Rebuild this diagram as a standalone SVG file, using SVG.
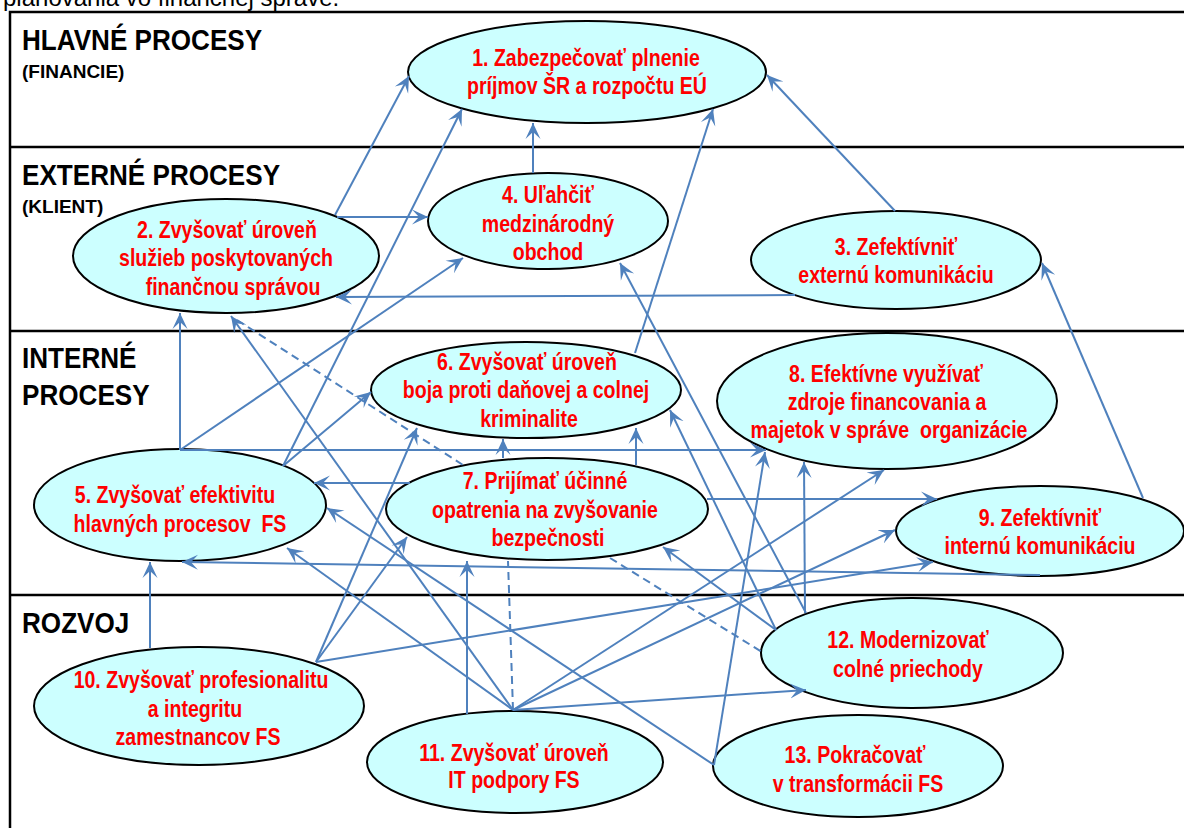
<svg xmlns="http://www.w3.org/2000/svg" width="1184" height="828" viewBox="0 0 1184 828">
<style>
.hdr{font-family:"Liberation Sans",Arial,sans-serif;font-weight:bold;font-size:29px;fill:#000}
.sub{font-family:"Liberation Sans",Arial,sans-serif;font-weight:bold;font-size:19px;fill:#000}
.node ellipse{fill:#CCFFFF;stroke:#000;stroke-width:2}
.t{font-family:"Liberation Sans",Arial,sans-serif;font-weight:bold;font-size:23px;fill:#FF0000;text-anchor:middle}
.frame{stroke:#000;stroke-width:2.5;fill:none}
#connectors line{stroke:#4F81BD;stroke-width:2;fill:none}
#connectors .a{marker-end:url(#ah)}
#connectors .d{stroke-dasharray:8 5}
</style>
<defs>
<marker id="ah" markerUnits="userSpaceOnUse" markerWidth="18" markerHeight="18" refX="16" refY="8" orient="auto" viewBox="0 0 18 16">
<path d="M0,0.5 L16,8 L0,15.5 L7,8 Z" fill="#4F81BD"/>
</marker>
</defs>
<rect width="1184" height="828" fill="#fff"/>
<text x="3" y="6" font-family="Liberation Sans, Arial, sans-serif" font-size="24" fill="#000">plánovania vo finančnej správe.</text>
<g id="frame">
<path class="frame" d="M10,840 L10,12 L1190,12"/>
<line class="frame" x1="10" y1="147" x2="1190" y2="147"/>
<line class="frame" x1="10" y1="331" x2="1190" y2="331"/>
<line class="frame" x1="10" y1="595" x2="1190" y2="595"/>
</g>
<g id="headers">
<text class="hdr" transform="translate(22,50) scale(0.9,1)">HLAVNÉ PROCESY</text>
<text class="sub" x="22" y="78">(FINANCIE)</text>
<text class="hdr" transform="translate(22,185) scale(0.9,1)">EXTERNÉ PROCESY</text>
<text class="sub" x="22" y="213">(KLIENT)</text>
<text class="hdr" transform="translate(22,368) scale(0.9,1)">INTERNÉ</text>
<text class="hdr" transform="translate(22,405) scale(0.9,1)">PROCESY</text>
<text class="hdr" transform="translate(22,633) scale(0.9,1)">ROZVOJ</text>
</g>
<g id="n1" class="node"><ellipse cx="587" cy="72" rx="179" ry="51"/>
<text class="t" transform="translate(586,66) scale(0.85,1)">1. Zabezpečovať plnenie</text>
<text class="t" transform="translate(587,94) scale(0.85,1)">príjmov ŠR a rozpočtu EÚ</text></g>
<g id="n2" class="node"><ellipse cx="226" cy="256" rx="153" ry="57"/>
<text class="t" transform="translate(227,238) scale(0.85,1)">2. Zvyšovať úroveň</text>
<text class="t" transform="translate(226,266) scale(0.85,1)">služieb poskytovaných</text>
<text class="t" transform="translate(233,295) scale(0.85,1)">finančnou správou</text></g>
<g id="n3" class="node"><ellipse cx="896" cy="260" rx="145" ry="49"/>
<text class="t" transform="translate(896,255) scale(0.85,1)">3. Zefektívniť</text>
<text class="t" transform="translate(896,283) scale(0.85,1)">externú komunikáciu</text></g>
<g id="n4" class="node"><ellipse cx="548" cy="221" rx="120" ry="48"/>
<text class="t" transform="translate(548,203) scale(0.85,1)">4. Uľahčiť</text>
<text class="t" transform="translate(548,232) scale(0.85,1)">medzinárodný</text>
<text class="t" transform="translate(548,260) scale(0.85,1)">obchod</text></g>
<g id="n5" class="node"><ellipse cx="180" cy="505" rx="146" ry="56"/>
<text class="t" transform="translate(175,503) scale(0.85,1)">5. Zvyšovať efektivitu</text>
<text class="t" xml:space="preserve" transform="translate(180,532) scale(0.85,1)">hlavných procesov  FS</text></g>
<g id="n6" class="node"><ellipse cx="526" cy="390" rx="155" ry="48"/>
<text class="t" transform="translate(527,370) scale(0.85,1)">6. Zvyšovať úroveň</text>
<text class="t" transform="translate(526,398) scale(0.85,1)">boja proti daňovej a colnej</text>
<text class="t" transform="translate(529,427) scale(0.85,1)">kriminalite</text></g>
<g id="n7" class="node"><ellipse cx="547" cy="509" rx="161" ry="51"/>
<text class="t" transform="translate(545,489) scale(0.85,1)">7. Prijímať účinné</text>
<text class="t" transform="translate(545,518) scale(0.85,1)">opatrenia na zvyšovanie</text>
<text class="t" transform="translate(548,546) scale(0.85,1)">bezpečnosti</text></g>
<g id="n8" class="node"><ellipse cx="887" cy="401" rx="170" ry="68"/>
<text class="t" transform="translate(886,382) scale(0.85,1)">8. Efektívne využívať</text>
<text class="t" transform="translate(887,410) scale(0.85,1)">zdroje financovania a</text>
<text class="t" xml:space="preserve" transform="translate(889,438) scale(0.85,1)">majetok v správe  organizácie</text></g>
<g id="n9" class="node"><ellipse cx="1040" cy="531" rx="144" ry="45"/>
<text class="t" transform="translate(1040,526) scale(0.85,1)">9. Zefektívniť</text>
<text class="t" transform="translate(1040,554) scale(0.85,1)">internú komunikáciu</text></g>
<g id="n10" class="node"><ellipse cx="199" cy="706" rx="165" ry="59"/>
<text class="t" transform="translate(201,688) scale(0.85,1)">10. Zvyšovať profesionalitu</text>
<text class="t" transform="translate(195,717) scale(0.85,1)">a integritu</text>
<text class="t" transform="translate(198,745) scale(0.85,1)">zamestnancov FS</text></g>
<g id="n11" class="node"><ellipse cx="515" cy="762" rx="148" ry="51"/>
<text class="t" transform="translate(514,761) scale(0.85,1)">11. Zvyšovať úroveň</text>
<text class="t" transform="translate(514,788) scale(0.85,1)">IT podpory FS</text></g>
<g id="n12" class="node"><ellipse cx="912" cy="653" rx="151" ry="55"/>
<text class="t" transform="translate(908,648) scale(0.85,1)">12. Modernizovať</text>
<text class="t" transform="translate(908,677) scale(0.85,1)">colné priechody</text></g>
<g id="n13" class="node"><ellipse cx="858" cy="766" rx="145" ry="51"/>
<text class="t" transform="translate(855,763) scale(0.85,1)">13. Pokračovať</text>
<text class="t" transform="translate(858,792) scale(0.85,1)">v transformácii FS</text></g>
<g id="connectors">
<line class="a" x1="335" y1="215" x2="409" y2="76"/>
<line class="a" x1="337" y1="217" x2="428" y2="217"/>
<line class="a" x1="533" y1="173" x2="533" y2="123"/>
<line class="a" x1="895" y1="211" x2="767" y2="75"/>
<line class="a" x1="795" y1="295" x2="336" y2="297"/>
<line class="a" x1="180" y1="450" x2="180" y2="313"/>
<line class="a" x1="180" y1="450" x2="463" y2="258"/>
<line class="a" x1="180" y1="450" x2="766" y2="450"/>
<line class="a" x1="283" y1="466" x2="462" y2="109"/>
<line class="a" x1="283" y1="466" x2="371" y2="392"/>
<line class="a" x1="635" y1="353" x2="713" y2="109"/>
<line class="a" x1="1143" y1="498" x2="1042" y2="263"/>
<line class="a" x1="150" y1="648" x2="150" y2="562"/>
<line class="a" x1="316" y1="662" x2="417" y2="428"/>
<line class="a" x1="316" y1="662" x2="407" y2="537"/>
<line class="a" x1="316" y1="662" x2="933" y2="562"/>
<line class="a" x1="513" y1="710" x2="231" y2="316"/>
<line class="a" x1="513" y1="710" x2="287" y2="548"/>
<line class="a" x1="467" y1="714" x2="467" y2="561"/>
<line class="d" x1="513" y1="710" x2="508" y2="561"/>
<line class="a" x1="513" y1="710" x2="884" y2="470"/>
<line class="a" x1="513" y1="710" x2="895" y2="530"/>
<line class="a" x1="513" y1="710" x2="806" y2="690"/>
<line class="a" x1="806" y1="613" x2="620" y2="263"/>
<line class="a" x1="776" y1="630" x2="670" y2="410"/>
<line class="a" x1="776" y1="630" x2="663" y2="547"/>
<line class="a" x1="805" y1="613" x2="804" y2="462"/>
<line class="d" x1="610" y1="558" x2="762" y2="652"/>
<line class="a" x1="714" y1="765" x2="327" y2="508"/>
<line class="a" x1="714" y1="765" x2="765" y2="452"/>
<line class="a" x1="410" y1="483" x2="314" y2="483"/>
<line class="a" x1="503" y1="458" x2="503" y2="439"/>
<line class="a" x1="636" y1="465" x2="636" y2="428"/>
<line class="a" x1="707" y1="499" x2="937" y2="499"/>
<line class="a" x1="1040" y1="575" x2="182" y2="562"/>
<line class="d" x1="237" y1="320" x2="463" y2="465"/>
</g>
</svg>
